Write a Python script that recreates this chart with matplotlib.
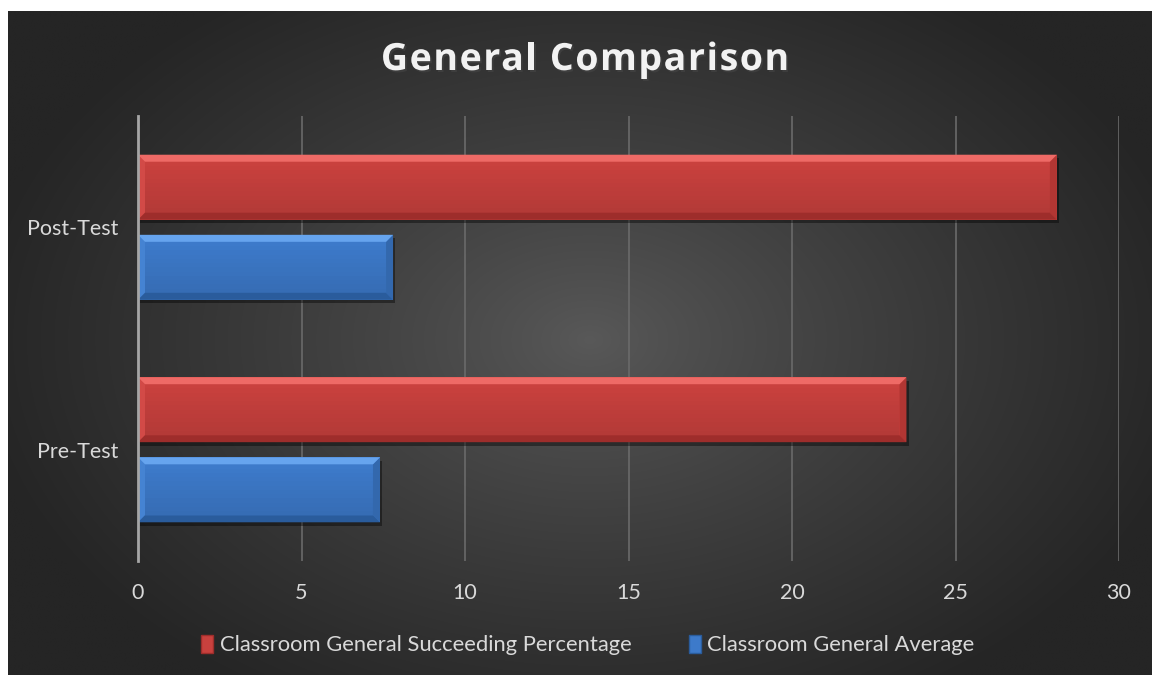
import numpy as np
import matplotlib
matplotlib.use("Agg")
import matplotlib.pyplot as plt
from matplotlib.patches import Polygon, Rectangle
from matplotlib import patheffects as pe

categories = ["Pre-Test", "Post-Test"]
series_names = ["Classroom General Succeeding Percentage", "Classroom General Average"]
succeeding = [23.5, 28.1]
average = [7.4, 7.8]
xticks = [0, 5, 10, 15, 20, 25, 30]
title = "General Comparison"

W, H = 1152, 675
fig = plt.figure(figsize=(W / 100, H / 100), dpi=100)
fig.patch.set_facecolor("white")

# background with radial gradient
bg = fig.add_axes([0, 0, 1, 1], zorder=0)
bg.set_xlim(0, W)
bg.set_ylim(H, 0)
bg.axis("off")
x0, y0 = 8, 11
xx, yy = np.meshgrid(np.linspace(x0, W, 400), np.linspace(y0, H, 300))
cx, cy = 590, 340
r = np.sqrt(((xx - cx) / 620) ** 2 + ((yy - cy) / 420) ** 2)
r = np.clip(r, 0, 1)
c_in, c_out = 0x59 / 255, 0x25 / 255
val = c_in + (c_out - c_in) * r ** 0.85
img = np.dstack([val, val, val])
bg.imshow(img, extent=(x0, W, H, y0), aspect="auto", interpolation="bilinear")

ax = fig.add_axes([138 / W, 1 - 561 / H, (1119 - 138) / W, (561 - 116) / H], zorder=1)
ax.patch.set_alpha(0)
ypos = np.arange(len(categories))
bh = 0.292
off = 0.18

red = dict(face="#c9413e", top="#ee6a66", bot="#9e2d2b", left="#d24a47", right="#b23633")
blue = dict(face="#3d7aca", top="#66a4ee", bot="#2a5c9c", left="#4583d2", right="#3368ad")

def draw(vals, yc, pal):
    bars = ax.barh(yc, vals, height=bh, color=pal["face"], zorder=3,
                   path_effects=[pe.SimplePatchShadow(offset=(1.5, -2.5), shadow_rgbFace="black", alpha=0.4), pe.Normal()])
    return bars

ax.set_xlim(0, 30)
ax.set_ylim(-0.5, 1.5)
rb = draw(succeeding, ypos + off, red)
bb = draw(average, ypos - off, blue)

fig.canvas.draw()
inv = ax.transData.inverted()
p0 = inv.transform((0, 0))
p1 = inv.transform((7, 7))
bx, by = p1[0] - p0[0], p1[1] - p0[1]

def bevel(bars, pal):
    for b in bars:
        xl, yb_ = b.get_x(), b.get_y()
        w, h = b.get_width(), b.get_height()
        xr, yt = xl + w, yb_ + h
        n = 12
        fh = (h - 2 * by) / n
        for k in range(n):
            a = 0.10 * (1 - k / (n - 1))
            ax.add_patch(Rectangle((xl + bx, yb_ + by + k * fh), w - 2 * bx, fh,
                                   facecolor="black", alpha=a, edgecolor="none", zorder=3.5))
        top = [(xl, yt), (xr, yt), (xr - bx, yt - by), (xl + bx, yt - by)]
        bot = [(xl, yb_), (xr, yb_), (xr - bx, yb_ + by), (xl + bx, yb_ + by)]
        left = [(xl, yb_), (xl, yt), (xl + bx, yt - by), (xl + bx, yb_ + by)]
        right = [(xr, yb_), (xr, yt), (xr - bx, yt - by), (xr - bx, yb_ + by)]
        for poly, c in ((left, pal["left"]), (right, pal["right"]), (top, pal["top"]), (bot, pal["bot"])):
            ax.add_patch(Polygon(poly, closed=True, facecolor=c, edgecolor="none", zorder=4))

bevel(rb, red)
bevel(bb, blue)

ax.set_xticks(xticks)
ax.set_xticklabels([str(t) for t in xticks])
ax.set_yticks(ypos)
ax.set_yticklabels(categories)
ax.tick_params(axis="both", length=0, labelsize=15.5, labelcolor="#d9d9d9")
ax.tick_params(axis="x", pad=16)
ax.tick_params(axis="y", pad=14)
for lab in ax.get_xticklabels() + ax.get_yticklabels():
    lab.set_fontfamily("Lato")
ax.grid(axis="x", color="#6a6a6a", linewidth=1.2, zorder=0)
ax.set_axisbelow(True)
for s in ["top", "right", "bottom"]:
    ax.spines[s].set_visible(False)
ax.spines["left"].set_color("#a6a6a6")
ax.spines["left"].set_linewidth(2)
ax.spines["left"].set_zorder(5)

# title with letter spacing
renderer = fig.canvas.get_renderer()
tkw = dict(fontsize=27, fontweight="bold", family="Open Sans", color="#f2f2f2")
track = 1.6

def width_of(s):
    t = fig.text(0, 0, s, **tkw)
    w = t.get_window_extent(renderer).width
    t.remove()
    return w

total = width_of(title) + track * (len(title) - 1)
start = 585 - total / 2
for i, ch in enumerate(title):
    if ch == " ":
        continue
    xs = start + width_of(title[:i + 1]) - width_of(ch) + track * i
    fig.text(xs / W, 1 - 60 / H, ch, ha="left", va="center", **tkw,
             path_effects=[pe.withSimplePatchShadow(offset=(1.2, -1.5), alpha=0.5)])

handles = [Rectangle((0, 0), 1, 1, facecolor=red["face"], edgecolor=red["bot"]),
           Rectangle((0, 0), 1, 1, facecolor=blue["face"], edgecolor=blue["bot"])]
leg = fig.legend(handles, series_names, loc="center", bbox_to_anchor=(588 / W, 1 - 645 / H),
                 ncol=2, frameon=False, handlelength=0.55, handleheight=0.9, handletextpad=0.3,
                 columnspacing=2.6, prop={"family": "Lato", "size": 15.8})
for t in leg.get_texts():
    t.set_color("#d9d9d9")

fig.savefig("out.png", dpi=100)
